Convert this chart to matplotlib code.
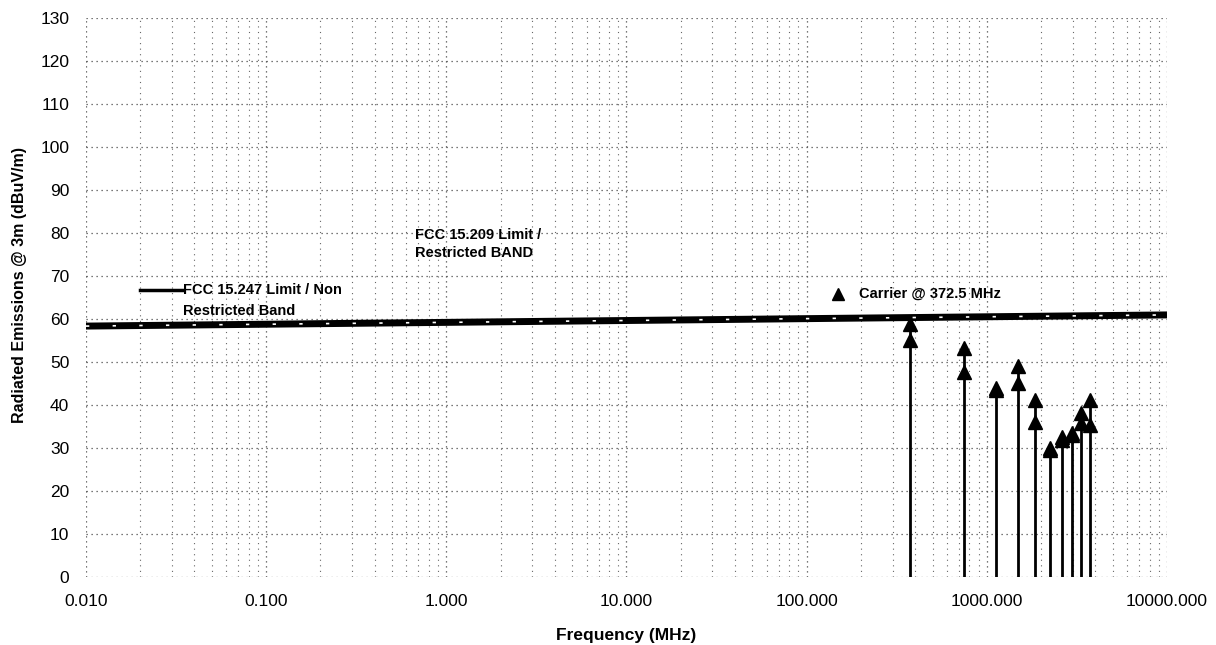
import numpy as np
import matplotlib
matplotlib.use("Agg")
import matplotlib.pyplot as plt
from matplotlib.ticker import FixedLocator, FixedFormatter, LogLocator, NullFormatter

plt.rcParams['font.family'] = ['Liberation Sans', 'DejaVu Sans']

# --- Data ---
limit_freqs = [0.01, 10000.0]          # MHz
limit_247 = [58.4, 61.0]               # dBuV/m, FCC 15.247 non restricted band
limit_209 = [58.4, 61.0]               # FCC 15.209 restricted band (drawn over it)

carrier = 372.5
harm_freqs = [372.5, 745.0, 1117.5, 1490.0, 1862.5, 2235.0, 2607.5, 2980.0, 3352.5, 3725.0]
level_h = [59.0, 53.4, 44.0, 49.0, 41.2, 30.0, 32.6, 33.5, 38.2, 41.2]
level_v = [55.2, 47.8, 43.5, 45.2, 36.1, 29.5, 31.8, 33.0, 35.9, 35.4]

x_ticks = [0.01, 0.1, 1, 10, 100, 1000, 10000]
x_labels = ['0.010', '0.100', '1.000', '10.000', '100.000', '1000.000', '10000.000']
y_ticks = list(range(0, 140, 10))

fig = plt.figure(figsize=(12.16, 6.45), dpi=100)
ax = fig.add_axes([0.0707, 0.1054, 0.889, 0.866])

ax.set_xscale('log')
ax.set_xlim(0.01, 10000)
ax.set_ylim(0, 130)

# grid, dotted like the scanned original
ax.xaxis.set_major_locator(FixedLocator(x_ticks))
ax.xaxis.set_major_formatter(FixedFormatter(x_labels))
ax.xaxis.set_minor_locator(LogLocator(base=10, subs=np.arange(2, 10)))
ax.xaxis.set_minor_formatter(NullFormatter())
ax.set_yticks(y_ticks)
ax.grid(which='major', color='0.3', linestyle=(0, (1, 3)), linewidth=0.9)
ax.grid(which='minor', axis='x', color='0.4', linestyle=(0, (1, 4)), linewidth=0.8)
for s in ax.spines.values():
    s.set_visible(False)
ax.tick_params(which='both', length=0, labelsize=12.5)
ax.tick_params(axis='y', pad=12)
ax.tick_params(axis='x', pad=12)

# limit lines
ax.plot(limit_freqs, limit_247, color='black', linewidth=5, solid_capstyle='butt', zorder=3)
ax.plot(limit_freqs, limit_209, color='white', linewidth=1.2, linestyle=(0, (2, 14)), zorder=4)

# measured harmonics as stems
tops = np.maximum(level_h, level_v)
ax.vlines(harm_freqs, 0, tops, color='black', linewidth=2, zorder=5)
ax.plot(harm_freqs, level_h, linestyle='none', marker='^', markersize=10, color='black', zorder=6)
ax.plot(harm_freqs, level_v, linestyle='none', marker='^', markersize=10, color='black', zorder=6)

# legend pieces placed inside the plot like the original
ax.plot([0.0199, 0.0346], [66.7, 66.7], color='black', linewidth=2.5, zorder=6)
ax.text(0.0346, 66.7, 'FCC 15.247 Limit / Non', fontsize=10.5, fontweight='bold',
        va='center', ha='left', zorder=7)
ax.text(0.0346, 61.8, 'Restricted Band', fontsize=10.5, fontweight='bold',
        va='center', ha='left', zorder=7)
ax.text(0.673, 79.7, 'FCC 15.209 Limit /', fontsize=10.5, fontweight='bold',
        va='center', ha='left', zorder=7)
ax.text(0.673, 75.5, 'Restricted BAND', fontsize=10.5, fontweight='bold',
        va='center', ha='left', zorder=7)
ax.plot([148.6], [65.8], linestyle='none', marker='^', markersize=8, color='black', zorder=7)
ax.text(194.5, 66.0, 'Carrier @ ' + str(carrier) + ' MHz', fontsize=10.5,
        fontweight='bold', va='center', ha='left', zorder=7)

ax.set_xlabel('Frequency (MHz)', fontsize=12.5, fontweight='bold', labelpad=14)
ax.set_ylabel('Radiated Emissions @ 3m (dBuV/m)', fontsize=11.5, fontweight='bold')
ax.yaxis.set_label_coords(-0.0546, 0.522)

fig.savefig('out.png', dpi=100, facecolor='white')
